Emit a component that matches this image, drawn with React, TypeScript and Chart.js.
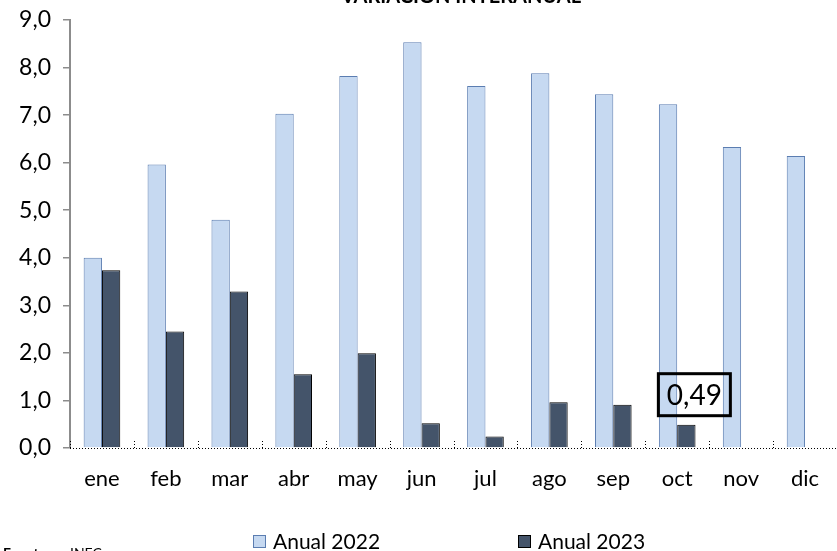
import React, { useEffect, useRef } from "react";
import { Chart, registerables } from "chart.js";

Chart.register(...registerables);

const months = ["ene", "feb", "mar", "abr", "may", "jun", "jul", "ago", "sep", "oct", "nov", "dic"];
const anual2022 = [4.0, 5.96, 4.8, 7.03, 7.82, 8.53, 7.61, 7.88, 7.44, 7.23, 6.33, 6.14];
const anual2023 = [3.74, 2.45, 3.29, 1.55, 1.99, 0.52, 0.24, 0.96, 0.91, 0.49, null, null];
const seriesNames = ["Anual 2022", "Anual 2023"];
const chartTitle = "VARIACIÓN INTERANUAL";
const sourceLabel = "Fuente:";
const sourceText = "INEC";
const highlightIndex = 9;

const FONT = "Lato, 'Open Sans', sans-serif";
const fmt = (v: number, d: number) => v.toFixed(d).replace(".", ",");

const decorPlugin = {
  id: "decor",
  afterDatasetsDraw(chart: any) {
    const { ctx, chartArea, scales } = chart;
    const x = scales.x;
    ctx.save();
    ctx.strokeStyle = "#000";
    ctx.lineWidth = 1;
    ctx.setLineDash([1, 2]);
    ctx.beginPath();
    ctx.moveTo(chartArea.left, chartArea.bottom + 0.5);
    ctx.lineTo(chartArea.right, chartArea.bottom + 0.5);
    ctx.stroke();
    const half = (x.getPixelForValue(1) - x.getPixelForValue(0)) / 2;
    for (let i = 0; i < months.length; i++) {
      const px = Math.round(x.getPixelForValue(i) - half) + 0.5;
      ctx.beginPath();
      ctx.moveTo(px, chartArea.bottom - 7);
      ctx.lineTo(px, chartArea.bottom);
      ctx.stroke();
    }
    ctx.setLineDash([]);

    const meta = chart.getDatasetMeta(1);
    const el = meta.data[highlightIndex];
    const val = anual2023[highlightIndex];
    if (el && val != null) {
      ctx.font = `28px ${FONT}`;
      const txt = fmt(val, 2);
      const w = 72, h = 42;
      const cx = el.x + 8;
      const bx = cx - w / 2;
      const by = el.y - 51;
      ctx.lineWidth = 3;
      ctx.strokeStyle = "#000";
      ctx.strokeRect(bx, by, w, h);
      ctx.fillStyle = "#000";
      ctx.textAlign = "center";
      ctx.textBaseline = "middle";
      ctx.fillText(txt, cx, by + h / 2 + 1);
    }

    ctx.font = `bold 20px ${FONT}`;
    ctx.textAlign = "center";
    ctx.textBaseline = "alphabetic";
    ctx.fillStyle = "#000";
    ctx.fillText(chartTitle, 461, 3);

    ctx.textAlign = "left";
    ctx.textBaseline = "top";
    ctx.font = `bold 14px ${FONT}`;
    ctx.fillText(sourceLabel, 3, 546);
    ctx.font = `14px ${FONT}`;
    ctx.fillText(sourceText, 70, 546);

    const items = [
      { x: 253, fill: "#C6D9F1", stroke: "#5B7DB1", label: seriesNames[0] },
      { x: 518, fill: "#44546A", stroke: "#000", label: seriesNames[1] },
    ];
    ctx.font = `21px ${FONT}`;
    ctx.textBaseline = "alphabetic";
    for (const it of items) {
      ctx.fillStyle = it.fill;
      ctx.fillRect(it.x, 535, 13, 13);
      ctx.strokeStyle = it.stroke;
      ctx.lineWidth = 1;
      ctx.strokeRect(it.x + 0.5, 535.5, 12, 12);
      ctx.fillStyle = "#000";
      ctx.fillText(it.label, it.x + 20, 549);
    }
    ctx.restore();
  },
};

export default function App() {
  const ref = useRef<HTMLCanvasElement>(null);
  useEffect(() => {
    const chart = new Chart(ref.current!, {
      type: "bar",
      data: {
        labels: months,
        datasets: [
          {
            label: seriesNames[0],
            data: anual2022,
            backgroundColor: "#C6D9F1",
            borderColor: "#5B7DB1",
            borderWidth: 1,
            categoryPercentage: 0.573,
            barPercentage: 1,
          },
          {
            label: seriesNames[1],
            data: anual2023 as any,
            backgroundColor: "#44546A",
            borderColor: "#000",
            borderWidth: 1,
            categoryPercentage: 0.573,
            barPercentage: 1,
          },
        ],
      },
      options: {
        responsive: false,
        animation: false,
        layout: { padding: { top: 20, right: 0, left: 0, bottom: 0 } },
        plugins: { legend: { display: false }, title: { display: false }, tooltip: { enabled: false } },
        scales: {
          x: {
            grid: { display: false },
            border: { display: false },
            ticks: { color: "#000", font: { family: FONT, size: 22 }, padding: 10 },
            afterFit: (s: any) => { s.height = 103; s.paddingLeft = 0; s.paddingRight = 0; },
          },
          y: {
            min: 0,
            max: 9,
            ticks: {
              stepSize: 1,
              color: "#000",
              font: { family: FONT, size: 23 },
              padding: 12,
              callback: (v: any) => fmt(Number(v), 1),
            },
            grid: { drawOnChartArea: false, drawTicks: true, tickLength: 7, color: "#8c8c8c", lineWidth: 1.5 },
            border: { display: true, color: "#8c8c8c", width: 2 },
            afterFit: (s: any) => { s.width = 70; s.paddingTop = 0; s.paddingBottom = 0; },
          },
        },
      },
      plugins: [decorPlugin],
    });
    return () => chart.destroy();
  }, []);
  return (
    <div style={{ position: "fixed", left: 0, top: 0, width: 837, height: 551, background: "#fff" }}>
      <canvas ref={ref} width={837} height={551} style={{ display: "block" }} />
    </div>
  );
}
